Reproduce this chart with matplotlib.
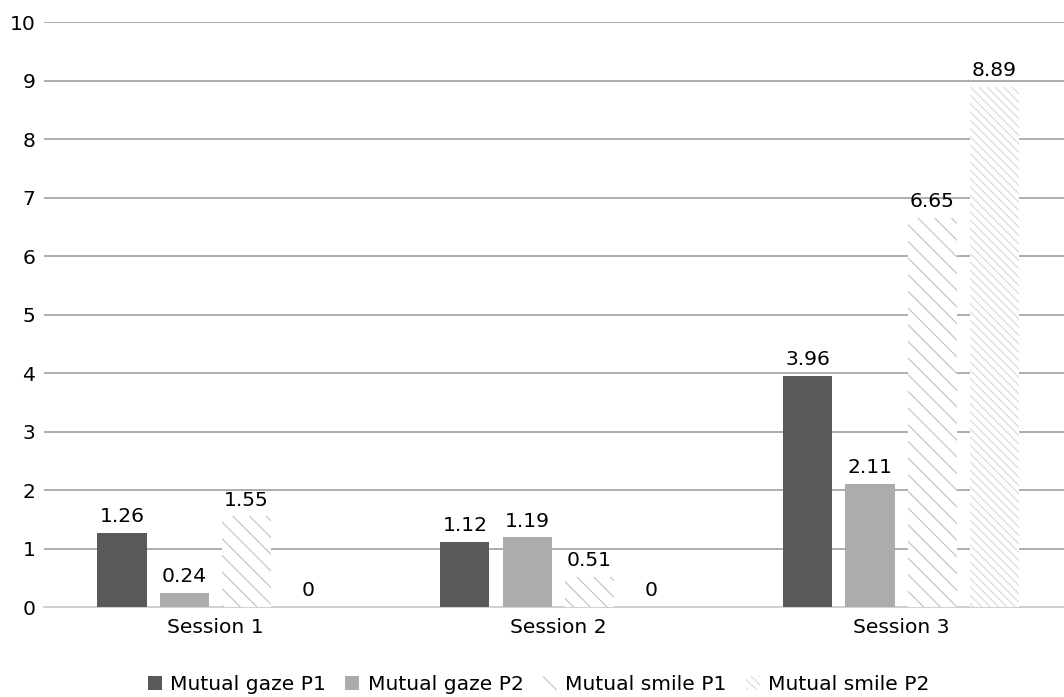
import matplotlib.pyplot as plt
import numpy as np

sessions = ['Session 1', 'Session 2', 'Session 3']
gaze_p1 = [1.26, 1.12, 3.96]
gaze_p2 = [0.24, 1.19, 2.11]
smile_p1 = [1.55, 0.51, 6.65]
smile_p2 = [0, 0, 8.89]

plt.rcParams['hatch.linewidth'] = 0.8

fig = plt.figure(figsize=(10.64, 6.97), dpi=100)
ax = fig.add_axes([0.041, 0.129, 0.967, 0.839])

x = np.arange(len(sessions))
w = 0.143
step = 0.181

# series: values, face, hatch-colour, hatch
series = [
    ('Mutual gaze P1', gaze_p1, '#595959', '#595959', None),
    ('Mutual gaze P2', gaze_p2, '#AEABAB', '#AEABAB', None),
    ('Mutual smile P1', smile_p1, 'white', '#C0C0C0', '\\\\'),
    ('Mutual smile P2', smile_p2, 'white', '#D9D9D9', '\\\\\\\\'),
]

for i, (name, vals, fc, ec, hatch) in enumerate(series):
    bars = ax.bar(x + (i - 1.5) * step, vals, w, color=fc, edgecolor=ec,
                  hatch=hatch, linewidth=0, label=name, zorder=3)
    ax.bar_label(bars, labels=[f'{v:g}' for v in vals], padding=5,
                 fontsize=14.6, color='black', zorder=4)

ax.set_xlim(-0.5, 2.5)
ax.set_ylim(0, 10)
ax.set_yticks(range(0, 11))
ax.set_xticks(x)
ax.set_xticklabels(sessions)
ax.tick_params(axis='both', length=0, labelsize=14.6, colors='black')
ax.tick_params(axis='y', pad=6)
ax.tick_params(axis='x', pad=8)

ax.yaxis.grid(True, color='#ADADAD', linewidth=1.4, zorder=0)
ax.set_axisbelow(True)
for s in ['top', 'right', 'left']:
    ax.spines[s].set_visible(False)
ax.spines['bottom'].set_color('#D0D0D0')
ax.spines['bottom'].set_linewidth(1.4)

ax.legend(loc='center', bbox_to_anchor=(0.481, -0.133), ncol=4,
          frameon=False, fontsize=14.6, handlelength=0.7, handleheight=0.7,
          handletextpad=0.4, columnspacing=0.95, borderaxespad=0)

fig.savefig('out.png', dpi=100)
